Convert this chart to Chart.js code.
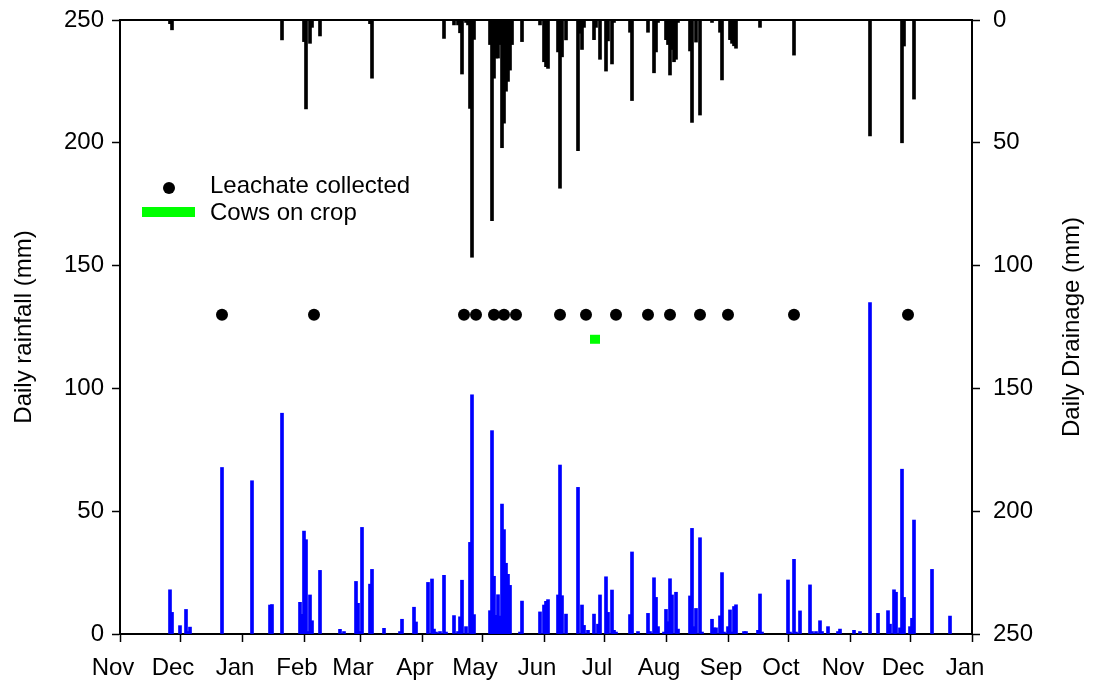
<!DOCTYPE html>
<html>
<head>
<meta charset="utf-8">
<script src="https://cdn.jsdelivr.net/npm/chart.js@4.4.1/dist/chart.umd.min.js"></script>
<style>
  html, body { margin: 0; padding: 0; background: #fff; }
  #wrap { width: 1094px; height: 681px; }
</style>
</head>
<body>
<div id="wrap"><canvas id="rainChart" width="1094" height="681"></canvas></div>
<script>
// x values are days counted from 1 November
const monthStarts = [0, 30, 61, 92, 120, 151, 181, 212, 242, 273, 304, 334, 365, 395, 426];
const monthLabels = ['Nov', 'Dec', 'Jan', 'Feb', 'Mar', 'Apr', 'May', 'Jun', 'Jul', 'Aug', 'Sep', 'Oct', 'Nov', 'Dec', 'Jan'];

// daily rainfall (mm)
const rainDay = [
  25, 26, 30, 33, 34, 35, 51, 66, 75, 76,
  81, 90, 91, 92, 93, 94, 95, 96, 100, 110,
  112, 118, 119, 120, 121, 125, 126, 132, 140, 141,
  147, 148, 154, 156, 157, 158, 160, 162, 163, 167,
  169, 170, 171, 173, 175, 176, 177, 185, 186, 187,
  188, 189, 190, 191, 192, 193, 194, 195, 200, 201,
  210, 212, 213, 214, 219, 220, 221, 223, 229, 231,
  232, 234, 237, 239, 240, 243, 244, 246, 247, 248,
  255, 256, 259, 264, 265, 267, 268, 269, 272, 273,
  274, 275, 276, 278, 279, 285, 286, 287, 288, 290,
  291, 296, 297, 298, 300, 301, 302, 304, 305, 306,
  307, 308, 312, 313, 319, 320, 321, 334, 335, 337,
  338, 340, 345, 346, 348, 350, 351, 354, 359, 360,
  367, 370, 375, 379, 384, 385, 387, 388, 390, 391,
  392, 395, 396, 397, 406, 415
];
const rainMm = [
  18.0, 8.8, 3.4, 10.0, 1.0, 2.8, 67.8, 62.4, 11.8, 12.0,
  89.9, 12.9, 8.0, 41.9, 38.4, 1.0, 15.9, 5.4, 25.9, 1.9,
  1.0, 21.4, 12.5, 1.0, 43.4, 20.3, 26.3, 2.3, 1.0, 6.0,
  10.9, 4.9, 21.0, 22.4, 2.0, 0.8, 1.0, 23.9, 0.8, 7.5,
  1.0, 7.0, 21.9, 3.0, 37.3, 97.4, 7.9, 9.5, 82.8, 23.5,
  7.6, 16.0, 7.3, 52.9, 42.5, 28.8, 24.3, 19.8, 0.8, 13.4,
  9.0, 11.8, 13.3, 14.0, 15.9, 68.8, 15.6, 8.1, 59.7, 11.8,
  3.5, 1.5, 8.1, 4.0, 15.9, 23.3, 8.8, 17.9, 1.5, 0.8,
  7.9, 33.4, 1.0, 8.4, 1.0, 22.9, 14.9, 3.0, 0.8, 10.0,
  5.0, 22.5, 15.9, 17.0, 2.0, 15.5, 43.0, 3.0, 10.4, 39.2,
  0.8, 6.0, 2.5, 2.5, 7.4, 25.0, 0.8, 3.0, 9.8, 0.8,
  11.2, 11.9, 1.0, 1.0, 1.5, 16.3, 0.8, 22.0, 0.8, 30.4,
  0.8, 9.4, 20.0, 1.0, 1.0, 5.4, 1.0, 3.0, 1.0, 2.0,
  1.5, 1.0, 134.9, 8.4, 9.5, 4.0, 18.0, 17.0, 2.5, 67.1,
  14.9, 3.0, 6.4, 46.4, 26.3, 7.3
];

// daily drainage (mm), hangs from the top on the reversed right axis
const drainDay = [
  25, 26, 81, 92, 93, 95, 96, 100, 125, 126,
  162, 167, 169, 170, 171, 173, 174, 175, 176, 177,
  185, 186, 187, 188, 189, 190, 191, 192, 193, 194,
  195, 196, 201, 210, 212, 213, 214, 219, 220, 221,
  223, 229, 230, 231, 232, 237, 238, 240, 243, 244,
  246, 247, 255, 256, 264, 267, 268, 269, 273, 274,
  275, 276, 277, 278, 279, 285, 286, 288, 290, 296,
  300, 301, 305, 306, 307, 308, 320, 337, 375, 391,
  392, 397
];
const drainMm = [
  1.5, 4.0, 8.1, 8.8, 36.2, 9.5, 3.0, 6.5, 1.5, 23.7,
  7.5, 2.0, 2.0, 5.2, 22.0, 1.0, 2.0, 36.0, 96.6, 7.9,
  10.0, 81.7, 23.7, 15.5, 15.5, 10.0, 52.0, 42.0, 29.0, 25.0,
  20.4, 10.0, 8.8, 2.0, 17.0, 19.0, 19.7, 13.0, 68.5, 15.0,
  8.1, 53.2, 5.4, 12.0, 3.0, 8.0, 3.0, 16.0, 20.8, 8.5,
  17.9, 1.0, 5.0, 32.8, 5.0, 21.5, 13.0, 1.0, 8.0, 10.0,
  22.4, 12.0, 17.0, 16.0, 1.0, 12.6, 41.7, 9.0, 38.7, 1.0,
  5.0, 24.4, 8.0, 9.5, 10.5, 11.5, 3.0, 14.3, 47.2, 50.0,
  10.6, 32.2
];

// sampling dates and grazing period
const leachDay = [51, 97, 172, 178, 187, 192, 198, 220, 233, 248, 264, 275, 290, 304, 337, 394];
const leachLevel = 130;
const cowsDays = [235, 240];
const cowsLevel = 120;

const FONT = "'Liberation Sans', Arial, Helvetica, sans-serif";
Chart.defaults.font.family = FONT;
Chart.defaults.font.size = 24;
Chart.defaults.color = '#000';

// legend box inside the plot + right-hand title reading bottom to top
const extras = {
  id: 'extras',
  afterDraw(chart) {
    const ctx = chart.ctx;
    ctx.save();
    ctx.fillStyle = '#000';
    ctx.beginPath();
    ctx.arc(169, 188, 6, 0, Math.PI * 2);
    ctx.fill();
    ctx.fillStyle = '#00ff00';
    ctx.fillRect(142, 207, 53, 10);
    ctx.fillStyle = '#000';
    ctx.font = '24px ' + FONT;
    ctx.textAlign = 'left';
    ctx.textBaseline = 'alphabetic';
    ctx.fillText('Leachate collected', 210, 193);
    ctx.fillText('Cows on crop', 210, 220);

    ctx.translate(1072, (chart.chartArea.top + chart.chartArea.bottom) / 2);
    ctx.rotate(-Math.PI / 2);
    ctx.textAlign = 'center';
    ctx.textBaseline = 'middle';
    ctx.fillText('Daily Drainage (mm)', 0, 0);
    ctx.restore();
  }
};

const axisGrid = { drawOnChartArea: false, offset: false, tickLength: 8, color: '#000', tickWidth: 1.5 };
const axisBorder = { color: '#000', width: 2 };

// fixed axis boxes so the plot area sits at 120..972 x 20..634
const fixWidth = w => s => { s.width = w; s.paddingTop = 0; s.paddingBottom = 0; };

new Chart(document.getElementById('rainChart'), {
  type: 'bar',
  data: {
    datasets: [
      {
        type: 'scatter',
        label: 'Leachate collected',
        data: leachDay.map(d => ({ x: d, y: leachLevel })),
        backgroundColor: '#000',
        borderColor: '#000',
        pointRadius: 6,
        borderWidth: 0,
        xAxisID: 'x',
        yAxisID: 'y',
        order: 0
      },
      {
        type: 'line',
        label: 'Cows on crop',
        data: cowsDays.map(d => ({ x: d, y: cowsLevel })),
        borderColor: '#00ff00',
        borderWidth: 9,
        borderCapStyle: 'butt',
        pointRadius: 0,
        xAxisID: 'x',
        yAxisID: 'y',
        order: 1
      },
      {
        label: 'Daily drainage',
        data: drainDay.map((d, i) => ({ x: d, y: drainMm[i] })),
        backgroundColor: '#000',
        barThickness: 3,
        grouped: false,
        xAxisID: 'x',
        yAxisID: 'y1',
        order: 2
      },
      {
        label: 'Daily rainfall',
        data: rainDay.map((d, i) => ({ x: d, y: rainMm[i] })),
        backgroundColor: '#0000ff',
        barThickness: 3,
        grouped: false,
        xAxisID: 'x',
        yAxisID: 'y',
        order: 3
      }
    ]
  },
  options: {
    responsive: false,
    animation: false,
    layout: { padding: 0 },
    plugins: { legend: { display: false }, tooltip: { enabled: false } },
    scales: {
      x: {
        type: 'linear',
        position: 'bottom',
        min: 0,
        max: 426,
        offset: false,
        afterBuildTicks: s => { s.ticks = monthStarts.map(v => ({ value: v })); },
        ticks: {
          callback: (v, i) => monthLabels[i],
          labelOffset: -7,
          padding: 12,
          maxRotation: 0,
          autoSkip: false
        },
        grid: axisGrid,
        border: axisBorder,
        afterFit: s => { s.height = 47; s.paddingLeft = 0; s.paddingRight = 0; }
      },
      xTop: {
        type: 'linear',
        position: 'top',
        min: 0,
        max: 426,
        offset: false,
        ticks: { display: false },
        grid: { display: false, drawTicks: false, offset: false },
        border: axisBorder,
        afterFit: s => { s.height = 20; s.paddingLeft = 0; s.paddingRight = 0; }
      },
      y: {
        position: 'left',
        min: 0,
        max: 250,
        ticks: { stepSize: 50, padding: 8 },
        grid: axisGrid,
        border: axisBorder,
        title: { display: true, text: 'Daily rainfall (mm)', padding: { top: 10, bottom: 0 } },
        afterFit: fixWidth(120)
      },
      y1: {
        position: 'right',
        min: 0,
        max: 250,
        reverse: true,
        ticks: { stepSize: 50, padding: 13 },
        grid: axisGrid,
        border: axisBorder,
        afterFit: fixWidth(122)
      }
    }
  },
  plugins: [extras]
});
</script>
</body>
</html>
